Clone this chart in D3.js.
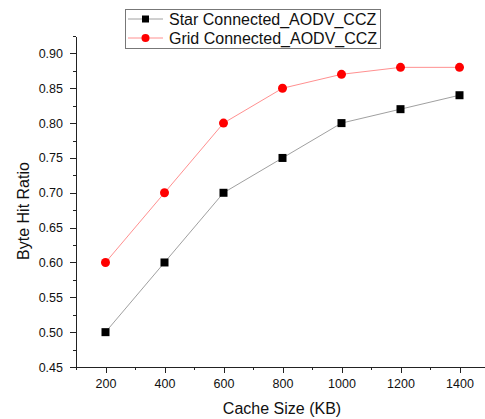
<!DOCTYPE html>
<html>
<head>
<meta charset="utf-8">
<script src="https://d3js.org/d3.v7.min.js"></script>
<style>
	body { margin: 0; background: white; }
	text { font-family: "Liberation Sans", Arial, sans-serif; fill: #111; }
	.axis path, .axis line { stroke: #222; shape-rendering: crispEdges; }
	.axis text { font-size: 12.5px; }
</style>
</head>
<body>
<svg id="main" width="485" height="419"></svg>
<script>
	// values
	var cacheSizes = [200, 400, 600, 800, 1000, 1200, 1400];
	var starHit = [0.50, 0.60, 0.70, 0.75, 0.80, 0.82, 0.84];
	var gridHit = [0.60, 0.70, 0.80, 0.85, 0.87, 0.88, 0.88];
	var seriesNames = ["Star Connected_AODV_CCZ", "Grid Connected_AODV_CCZ"];
	var yTicks = [0.45, 0.50, 0.55, 0.60, 0.65, 0.70, 0.75, 0.80, 0.85, 0.90];

	var LEFT = 76, RIGHT = 489, TOP = 36, BOTTOM = 367;

	var svg = d3.select('#main');

	var x = d3.scaleLinear().domain([100, 1500]).range([LEFT, RIGHT]);
	var y = d3.scaleLinear().domain([0.45, 0.925]).range([BOTTOM, TOP]);

	// minor ticks first, then the major axes on top
	var xMinor = d3.range(100, 1500, 100).filter(function(d) { return d % 200 != 0; });
	var yMinor = d3.range(0, 10).map(function(i) { return 0.475 + i * 0.05; });

	svg.append('g').attr('class', 'axis').attr('transform', 'translate(0,' + BOTTOM + ')')
		.call(d3.axisBottom(x).tickValues(xMinor).tickSize(3).tickFormat(''))
		.select('.domain').remove();
	svg.append('g').attr('class', 'axis').attr('transform', 'translate(' + LEFT + ',0)')
		.call(d3.axisLeft(y).tickValues(yMinor).tickSize(3).tickFormat(''))
		.select('.domain').remove();

	svg.append('g').attr('class', 'axis').attr('transform', 'translate(0,' + BOTTOM + ')')
		.call(d3.axisBottom(x).tickValues(cacheSizes).tickSizeInner(6).tickSizeOuter(0).tickPadding(6).tickFormat(d3.format('d')));
	svg.append('g').attr('class', 'axis').attr('transform', 'translate(' + LEFT + ',0)')
		.call(d3.axisLeft(y).tickValues(yTicks).tickSizeInner(6).tickSizeOuter(0).tickPadding(7).tickFormat(d3.format('.2f')));

	svg.append('text').attr('x', 282).attr('y', 414).attr('text-anchor', 'middle')
		.style('font-size', '16px').text('Cache Size (KB)');
	svg.append('text').attr('transform', 'translate(29,211) rotate(-90)')
		.attr('text-anchor', 'middle').style('font-size', '16px').text('Byte Hit Ratio');

	var line = d3.line()
		.x(function(d, i) { return x(cacheSizes[i]); })
		.y(function(d) { return y(d); });

	svg.append('path').datum(starHit).attr('d', line)
		.attr('fill', 'none').attr('stroke', '#a0a0a0').attr('stroke-width', 1);
	svg.append('path').datum(gridHit).attr('d', line)
		.attr('fill', 'none').attr('stroke', '#ff9090').attr('stroke-width', 1);

	svg.append('g').selectAll('rect').data(starHit).enter().append('rect')
		.attr('x', function(d, i) { return x(cacheSizes[i]) - 4; })
		.attr('y', function(d) { return y(d) - 4; })
		.attr('width', 8).attr('height', 8).attr('fill', 'black');
	svg.append('g').selectAll('circle').data(gridHit).enter().append('circle')
		.attr('cx', function(d, i) { return x(cacheSizes[i]); })
		.attr('cy', function(d) { return y(d); })
		.attr('r', 4.5).attr('fill', '#ff0000');

	// legend
	var legend = svg.append('g');
	legend.append('rect').attr('x', 125.5).attr('y', 9.5).attr('width', 255).attr('height', 39)
		.attr('fill', 'white').attr('stroke', '#777');
	var rowY = [19, 38];
	var lineCols = ['#a0a0a0', '#ff9090'];
	rowY.forEach(function(ry, i) {
		legend.append('line').attr('x1', 128).attr('x2', 163).attr('y1', ry).attr('y2', ry)
			.attr('stroke', lineCols[i]);
		if (i == 0) {
			legend.append('rect').attr('x', 142).attr('y', ry - 3.5).attr('width', 7).attr('height', 7).attr('fill', 'black');
		} else {
			legend.append('circle').attr('cx', 145.5).attr('cy', ry).attr('r', 4).attr('fill', '#ff0000');
		}
		legend.append('text').attr('x', 169).attr('y', ry + 5.5).style('font-size', '16px')
			.text(seriesNames[i]);
	});
</script>
</body>
</html>
